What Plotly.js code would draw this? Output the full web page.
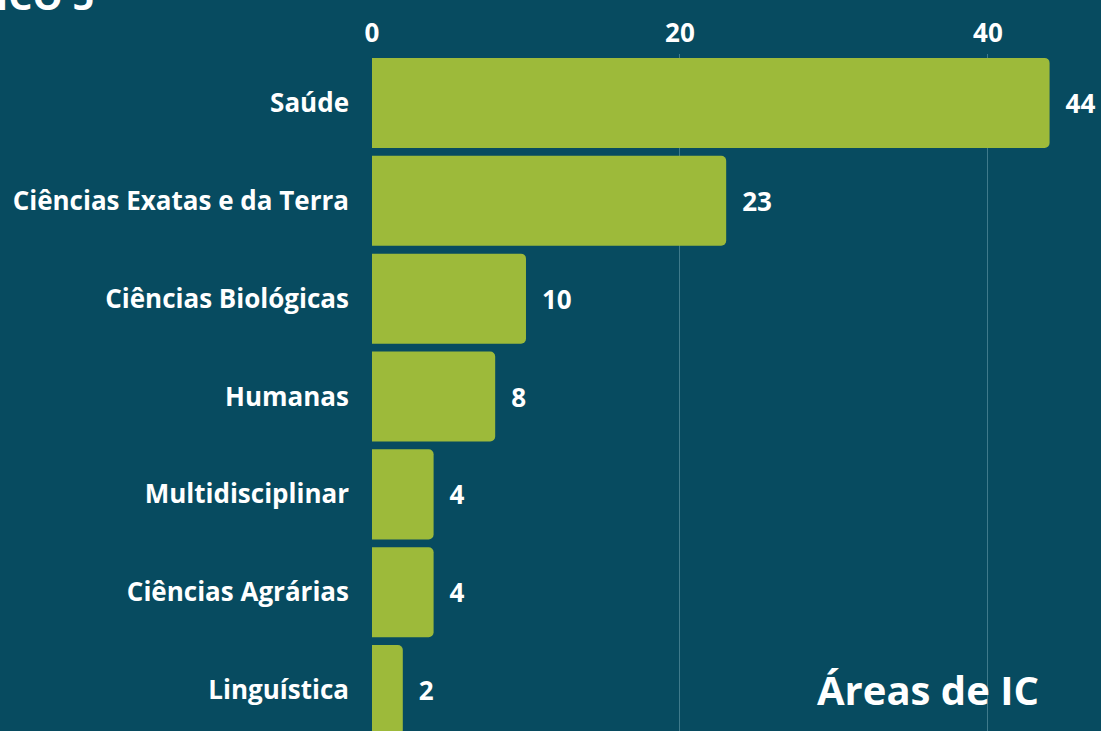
<!DOCTYPE html>
<html>
<head>
<meta charset="utf-8">
<script src="https://cdn.plot.ly/plotly-3.0.1.min.js"></script>
<style>
html,body{margin:0;padding:0;background:#074b60;overflow:hidden;}
#chart{width:1101px;height:731px;}
</style>
</head>
<body>
<div id="chart"></div>
<script>
const categories = ["Saúde", "Ciências Exatas e da Terra", "Ciências Biológicas", "Humanas", "Multidisciplinar", "Ciências Agrárias", "Linguística"];
const values = [44, 23, 10, 8, 4, 4, 2];
const tickValues = [0, 20, 40];
const tickLabels = ["0", "20", "40"];

const FONT = "'Open Sans', Lato, sans-serif";

const trace = {
  type: "bar",
  orientation: "h",
  x: values,
  y: categories,
  texttemplate: "\u2002%{x}",
  textposition: "outside",
  cliponaxis: false,
  textfont: {color: "#ffffff", size: 26, family: FONT, weight: 700},
  marker: {color: "#9dba3a", cornerradius: 5},
  hoverinfo: "none"
};

const layout = {
  width: 1101,
  height: 731,
  paper_bgcolor: "#074b60",
  plot_bgcolor: "#074b60",
  margin: {l: 372, r: 0, t: 54, b: 0, pad: 0},
  showlegend: false,
  bargap: 0.08,
  font: {family: FONT, color: "#ffffff", size: 26, weight: 700},
  xaxis: {
    side: "top",
    range: [0, 47.34],
    tickvals: tickValues,
    ticktext: tickLabels,
    showgrid: true,
    gridcolor: "#3f7a8b",
    gridwidth: 1,
    zeroline: false,
    showline: false,
    ticks: "",
    tickfont: {size: 26, color: "#ffffff", family: FONT, weight: 700},
    ticklabelstandoff: 6
  },
  yaxis: {
    type: "category",
    range: [6.418, -0.5],
    showgrid: false,
    zeroline: false,
    showline: false,
    ticks: "",
    ticklabelstandoff: 22,
    tickfont: {size: 26, color: "#ffffff", family: FONT, weight: 700}
  },
  annotations: [
    {
      text: "Áreas de IC",
      xref: "paper", yref: "paper",
      x: 0.918, y: 0.018,
      xanchor: "right", yanchor: "bottom",
      showarrow: false,
      font: {size: 40, color: "#ffffff", family: FONT, weight: 700}
    },
    {
      text: "GRÁFICO 5",
      xref: "paper", yref: "paper",
      x: -0.378, y: 1.046,
      xanchor: "right", yanchor: "bottom",
      showarrow: false,
      font: {size: 38, color: "#ffffff", family: FONT, weight: 700}
    }
  ]
};

Plotly.newPlot("chart", [trace], layout, {displayModeBar: false, staticPlot: true});
</script>
</body>
</html>
